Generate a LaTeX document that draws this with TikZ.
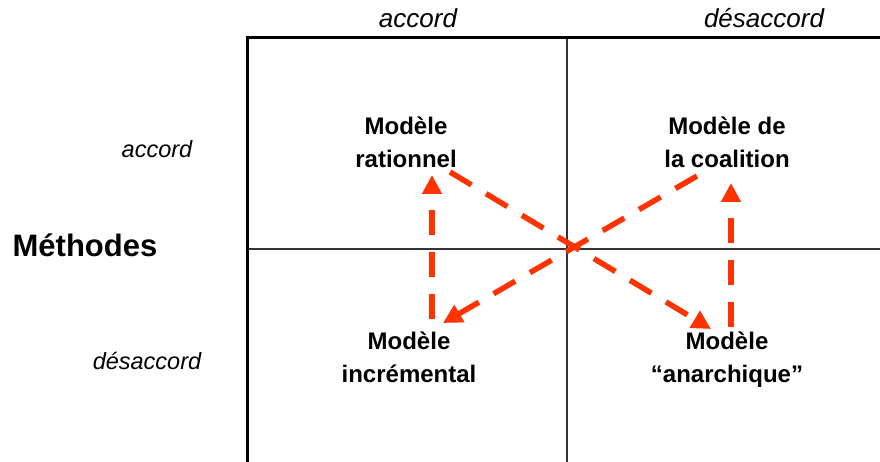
\documentclass[tikz,border=0pt]{standalone}
\usepackage{fontspec}
\setmainfont{Liberation Sans}
\usetikzlibrary{arrows.meta}
\definecolor{orangevif}{RGB}{255,51,0}

\begin{document}
\begin{tikzpicture}[
        x=1pt, y=-1pt,
        modele/.style={
          font=\fontsize{24}{33}\selectfont\bfseries,
          align=center,
          anchor=base,
          inner sep=0pt
        },
        critere/.style={font=\fontsize{26}{30}\selectfont\itshape, anchor=base, inner sep=0pt},
        critereg/.style={font=\fontsize{23.5}{28}\selectfont\itshape, anchor=base, inner sep=0pt},
        fleche/.style={orangevif, line width=5.5pt, dash pattern=on 25pt off 17pt,
          -{Triangle[length=19pt,width=19pt]}}
      ]
      \useasboundingbox (0,0) rectangle (880,462);

      % cadre et quadrants
      \draw[line width=3pt] (247.5,462) -- (247.5,37.5) -- (880,37.5);
      \draw[line width=1.3pt, black!80] (567,39) -- (567,462);
      \draw[line width=1.3pt, black!80] (249,249) -- (880,249);

      % criteres
      \node[critere] (acc-haut) at (418,28) {accord};
      \node[critere] (des-haut) at (764,28) {désaccord};
      \node[critereg] (acc-gauche) at (157,158) {accord};
      \node[critereg] (des-gauche) at (147,369) {désaccord};
      \node[font=\fontsize{31}{36}\selectfont\bfseries, anchor=base, inner sep=0pt]
        (methodes) at (85,257) {Méthodes};

      % modeles (base = derniere ligne)
      \node[modele] (rationnel)  at (406,168) {Modèle\\rationnel};
      \node[modele] (coalition)  at (727,168) {Modèle de\\la coalition};
      \node[modele] (incremental) at (409,382) {Modèle\\incrémental};
      \node[modele] (anarchique) at (727,382) {Modèle\\“anarchique”};

      % extremites des fleches
      \coordinate (rat-d) at (450,172);
      \coordinate (rat-b) at (432,175);
      \coordinate (coa-g) at (697,176);
      \coordinate (coa-b) at (731,183);
      \coordinate (inc-h) at (432,319);
      \coordinate (inc-d) at (443,323);
      \coordinate (ana-h) at (731,327);
      \coordinate (ana-g) at (711,329);

      \draw[fleche] (rat-d) -- (ana-g);
      \draw[fleche] (coa-g) -- (inc-d);
      \draw[fleche] (inc-h) -- (rat-b);
      \draw[fleche] (ana-h) -- (coa-b);
    \end{tikzpicture}
\end{document}
